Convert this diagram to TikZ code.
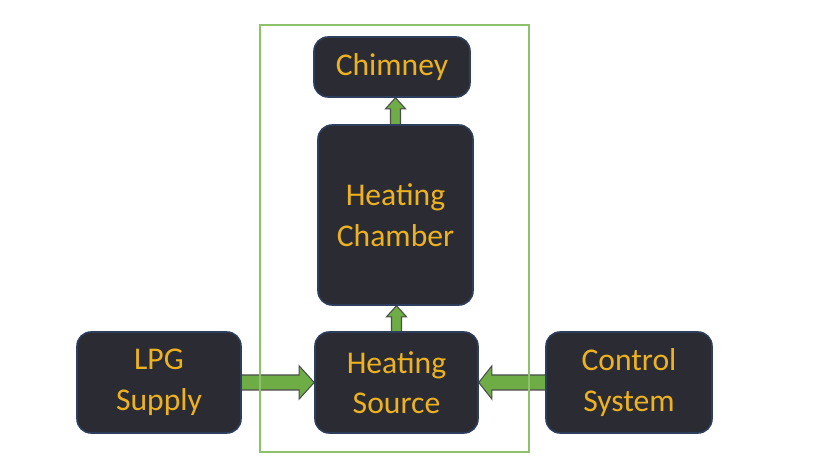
\documentclass[tikz,border=0pt]{standalone}
\usepackage{fontspec}
\setmainfont{Carlito}
\usetikzlibrary{calc,backgrounds}
\definecolor{hsdark}{HTML}{2A2B33}
\definecolor{hsedge}{HTML}{2E3F5E}
\definecolor{hstext}{HTML}{EDB21E}
\definecolor{hsgreen}{HTML}{6EAD45}
\definecolor{hsline}{HTML}{8DC26A}
\tikzset{
  hsblock/.style={draw=hsedge, fill=hsdark, rounded corners=8pt, line width=0.9pt,
    align=center, text=hstext, font=\fontsize{18}{23}\selectfont, inner sep=0pt},
  hsarrow/.style={draw=black!70, fill=hsgreen, line width=0.6pt, line join=miter},
  hsframe/.style={draw=hsline, line width=0.9pt}
}

\begin{document}
\begin{tikzpicture}
  \useasboundingbox (0,0) rectangle (16.54,9.42);
  % frame round the furnace
  \draw[hsframe] (5.2,0.38) rectangle (10.58,8.92);
  % blocks
  \node[hsblock, minimum width=3.12cm, minimum height=1.2cm] (chimney) at (7.84,8.08) {Chimney};
  \node[hsblock, minimum width=3.1cm, minimum height=3.6cm] (chamber) at (7.91,5.12) {Heating\\Chamber};
  \node[hsblock, minimum width=3.26cm, minimum height=2.02cm] (source) at (7.93,1.77) {Heating\\Source};
  \node[hsblock, minimum width=3.28cm, minimum height=2.02cm] (lpg) at (3.18,1.77) {LPG\\Supply};
  \node[hsblock, minimum width=3.32cm, minimum height=2.02cm] (control) at (12.58,1.77) {Control\\System};
  % block arrows
  \begin{scope}[on background layer]
    \coordinate (tipA) at (chimney.south -| chamber.north);
    \coordinate (tipB) at (chamber.south -| source.north);
    \draw[hsarrow] ($(chamber.north)+(-0.1,-0.1)$) -- ($(tipA)+(-0.1,-0.22)$) -- ($(tipA)+(-0.2,-0.22)$)
      -- (tipA) -- ($(tipA)+(0.2,-0.22)$) -- ($(tipA)+(0.1,-0.22)$) -- ($(chamber.north)+(0.1,-0.1)$) -- cycle;
    \draw[hsarrow] ($(source.north)+(-0.1,-0.1)$) -- ($(tipB)+(-0.1,-0.22)$) -- ($(tipB)+(-0.2,-0.22)$)
      -- (tipB) -- ($(tipB)+(0.2,-0.22)$) -- ($(tipB)+(0.1,-0.22)$) -- ($(source.north)+(0.1,-0.1)$) -- cycle;
    \draw[hsarrow] ($(lpg.east)+(-0.1,0.15)$) -- ($(source.west)+(-0.3,0.15)$) -- ($(source.west)+(-0.3,0.33)$)
      -- (source.west) -- ($(source.west)+(-0.3,-0.33)$) -- ($(source.west)+(-0.3,-0.15)$) -- ($(lpg.east)+(-0.1,-0.15)$) -- cycle;
    \draw[hsarrow] ($(control.west)+(0.1,0.15)$) -- ($(source.east)+(0.26,0.15)$) -- ($(source.east)+(0.26,0.33)$)
      -- (source.east) -- ($(source.east)+(0.26,-0.33)$) -- ($(source.east)+(0.26,-0.15)$) -- ($(control.west)+(0.1,-0.15)$) -- cycle;
  \end{scope}
\end{tikzpicture}
\end{document}
